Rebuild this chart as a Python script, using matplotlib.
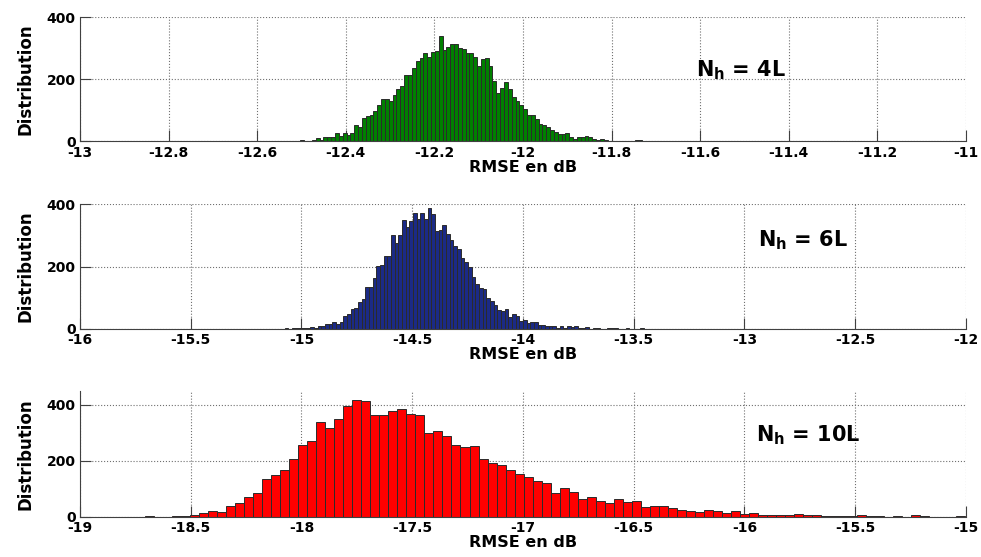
import numpy as np
import matplotlib
matplotlib.use('Agg')
import matplotlib.pyplot as plt
from matplotlib.ticker import FuncFormatter

# histogram counts, one value per bin (left to right)
counts_4L = [1, 1, 4, 0, 2, 4, 11, 6, 14, 14, 14, 28, 19, 26, 21, 27, 52, 46, 75, 82, 85,
             98, 117, 137, 138, 132, 151, 170, 179, 216, 216, 238,
             261, 268, 284, 274, 288, 293, 339, 295, 306, 313, 313, 302, 297, 284, 286, 274,
             245, 265, 270, 242, 194, 156, 172, 191, 168, 145, 129, 117, 104, 87, 87, 73,
             57, 53, 47, 36, 30, 25, 25, 27, 13, 9, 15, 15, 19, 13, 8, 5, 8, 5, 2, 2,
             0, 1, 0, 2, 2, 4, 4]
counts_6L = [1, 0, 1, 1,
             3, 1, 3, 5, 3, 8, 10, 14, 16, 23, 16, 23, 40, 48, 62, 67, 86, 94, 134, 134,
             163, 202, 205, 235, 235, 303, 276, 303,
             349, 328, 347, 371, 352, 374, 352, 390, 369, 315, 319, 333, 306, 285, 267, 257,
             229, 214, 199, 165, 145, 132, 128, 100, 89, 77, 60, 56, 62, 38, 46, 40, 24, 29, 17,
             21, 22, 13, 13, 8, 8, 8, 3, 10, 3, 8, 5, 8, 1, 1, 4, 0, 1, 1, 0,
             0, 1, 1, 1, 0, 0, 1, 0, 0, 0, 1]
counts_10L = [1, 0, 0, 1, 1,
              7, 12, 21, 17, 36, 48, 69, 86, 136, 148, 165, 207, 255, 271, 338, 318, 351, 396,
              417, 414, 364, 364, 379, 385, 366, 364, 298, 306, 289, 258, 248, 252, 206, 192,
              183, 168, 153, 141,
              129, 120, 85, 104, 89, 64, 69, 57, 48, 64, 52, 57, 35, 39, 36, 31, 23, 18, 15, 24,
              20, 13, 20, 8, 11, 7, 5, 5, 5, 10, 4, 6, 2, 2, 2, 2, 4, 1,
              1, 0, 1, 0, 4, 1, 0, 0, 0, 2]

# first bin edge and bin width (dB)
start_4L, width_4L = -12.5196, 0.008668
start_6L, width_6L = -15.076, 0.016554
start_10L, width_10L = -18.7069, 0.04071

xticks_4L = np.arange(-13, -10.99, 0.2)
xticks_6L = np.arange(-16, -11.99, 0.5)
xticks_10L = np.arange(-19, -14.99, 0.5)

labels = ['4L', '6L', '10L']

plt.rcParams['font.family'] = 'DejaVu Sans'
plt.rcParams['font.weight'] = 'bold'
plt.rcParams['axes.labelweight'] = 'bold'
plt.rcParams['axes.unicode_minus'] = False
plt.rcParams['mathtext.fontset'] = 'dejavusans'

fig = plt.figure(figsize=(9.81, 5.57), dpi=100)

panels = [
    (counts_4L, start_4L, width_4L, xticks_4L, 400, '#008000', [0.0815, 0.746, 0.9032, 0.2226], (-11.61, 230)),
    (counts_6L, start_6L, width_6L, xticks_6L, 400, '#1b2a86', [0.0815, 0.4099, 0.9032, 0.2230], (-12.94, 286)),
    (counts_10L, start_10L, width_10L, xticks_10L, 450, '#ff0000', [0.0815, 0.0727, 0.9032, 0.2253], (-15.95, 292)),
]

for (counts, start, width, xticks, ytop, color, pos, txt), lab in zip(panels, labels):
    ax = fig.add_axes(pos)
    edges = start + width * np.arange(len(counts))
    ax.bar(edges, counts, width=width, align='edge', color=color,
           edgecolor='#2b2b2b', linewidth=0.7)
    ax.set_xlim(xticks[0], xticks[-1])
    ax.set_ylim(0, ytop)
    ax.set_xticks(xticks)
    ax.set_yticks([0, 200, 400])
    ax.xaxis.set_major_formatter(FuncFormatter(lambda v, p: '%g' % round(v, 1)))
    ax.grid(True, linestyle=':', color='#707070', linewidth=0.8)
    ax.set_axisbelow(True)
    for s in ['top', 'right']:
        ax.spines[s].set_visible(False)
    for s in ['left', 'bottom']:
        ax.spines[s].set_color('#404040')
    ax.tick_params(direction='in', length=8, width=0.8, color='#404040', labelsize=10)
    ax.tick_params(axis='x', pad=3)
    ax.tick_params(axis='y', pad=3)
    ax.set_xlabel('RMSE en dB', fontsize=11.5, labelpad=0)
    ax.set_ylabel('Distribution', fontsize=12, labelpad=9)
    ax.text(txt[0], txt[1], r'$\mathbf{N_h}$ = ' + lab, fontsize=15, fontweight='bold',
            va='center', ha='left')

fig.savefig('out.png', dpi=100)
